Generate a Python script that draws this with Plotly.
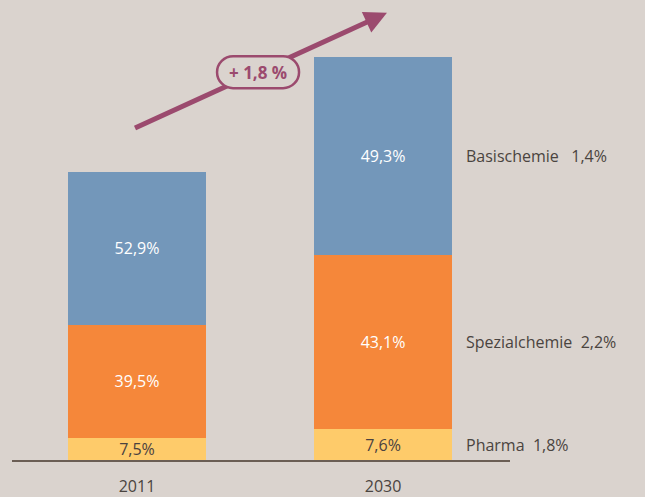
import plotly.graph_objects as go

# values (index 2011 = 100)
years = ['2011', '2030']
totals = [100, 140]
segments = ['Pharma', 'Spezialchemie', 'Basischemie']
shares = {
    'Pharma': [7.5, 7.6],
    'Spezialchemie': [39.5, 43.1],
    'Basischemie': [52.9, 49.3],
}
growth = {'Pharma': '1,8%', 'Spezialchemie': '2,2%', 'Basischemie': '1,4%'}
gap = {'Pharma': '\u00a0\u00a0', 'Spezialchemie': '\u00a0\u00a0', 'Basischemie': '\u00a0\u00a0\u00a0'}
total_growth = '+ 1,8 %'

colors = {'Pharma': '#FECB6A', 'Spezialchemie': '#F5873A', 'Basischemie': '#7397BA'}
text_colors = {'Pharma': '#4A4240', 'Spezialchemie': 'white', 'Basischemie': 'white'}
bg = '#DAD3CE'
dark = '#4A4440'
plum = '#9B4A6E'
font = 'Open Sans'

xs = [0, 1]
fig = go.Figure()
for seg in segments:
    vals = [t * s / 100 for t, s in zip(totals, shares[seg])]
    fig.add_trace(go.Bar(
        x=xs, y=vals, name=seg, width=0.561,
        marker=dict(color=colors[seg], line=dict(width=0)),
        text=[('%.1f%%' % s).replace('.', ',') for s in shares[seg]],
        textposition='inside', insidetextanchor='middle',
        textfont=dict(size=16, color=text_colors[seg], family=font),
        hoverinfo='skip'))

# labels on the right, level with the middle of each 2030 segment
base = 0
for seg in segments:
    h = totals[1] * shares[seg][1] / 100
    fig.add_annotation(x=1.33, y=base + h / 2, xanchor='left', yanchor='middle',
                       text=seg + gap[seg] + growth[seg], showarrow=False,
                       font=dict(size=16, color=dark, family=font))
    base += h

# growth arrow with the rounded label on it
fig.add_shape(type='line', x0=-0.008, y0=115.2, x1=0.96, y1=153.0,
              line=dict(color=plum, width=5), layer='above')
fig.add_shape(type='path', xref='x', yref='y', xsizemode='pixel', ysizemode='pixel',
              xanchor=0.492, yanchor=134.6,
              path='M -25,16 L 25,16 C 33.8,16 41,8.8 41,0 C 41,-8.8 33.8,-16 25,-16 '
                   'L -25,-16 C -33.8,-16 -41,-8.8 -41,0 C -41,8.8 -33.8,16 -25,16 Z',
              line=dict(color=plum, width=2.5), fillcolor=bg, layer='above')
fig.add_annotation(x=1.016, y=155.2, ax=0.93, ay=151.8, xref='x', yref='y', axref='x', ayref='y',
                   text='', showarrow=True, arrowhead=2, arrowsize=0.9, arrowwidth=5,
                   arrowcolor=plum, standoff=0)
fig.add_annotation(x=0.492, y=134.6, text='<b>' + total_growth + '</b>', showarrow=False,
                   font=dict(size=17, color=plum, family=font))

fig.update_layout(
    barmode='stack', showlegend=False,
    width=645, height=497,
    margin=dict(l=12, r=135, t=0, b=34),
    paper_bgcolor=bg, plot_bgcolor=bg,
    xaxis=dict(range=[-0.508, 1.516], tickvals=xs, ticktext=years, showgrid=False,
               zeroline=False, showline=True, linecolor='#6B5E55', linewidth=1.5,
               ticks='', tickfont=dict(size=16, color=dark, family=font),
               ticklabelstandoff=11, fixedrange=True),
    yaxis=dict(range=[0, 463 / 2.9], visible=False, fixedrange=True),
    uniformtext=dict(minsize=16, mode='show'),
)

fig.write_html("out.html", config={'displayModeBar': False},
               post_script="document.body.style.margin='0';")
